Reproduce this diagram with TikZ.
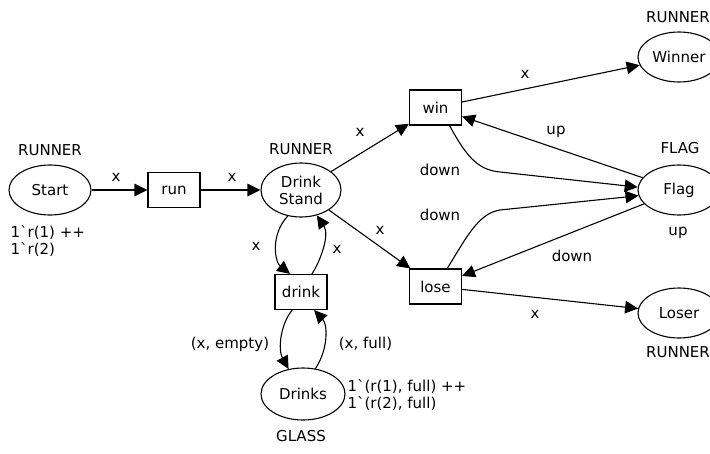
\documentclass[tikz,border=0pt]{standalone}
\usepackage{fontspec}
\setmainfont{DejaVu Sans}[Ligatures=TeXOff]
\usetikzlibrary{shapes.geometric,arrows.meta}
\newcommand\bq{\symbol{96}}
\begin{document}
\begin{tikzpicture}[x=1pt,y=-1pt,
  every node/.style={font=\fontsize{15}{17}\selectfont},
  place/.style={draw, ellipse, minimum width=82pt, minimum height=50pt, inner sep=0pt},
  trans/.style={draw, rectangle, minimum width=52pt, minimum height=35pt, inner sep=0pt},
  lbl/.style={inner sep=0pt},
  arc/.style={-{Triangle[length=13pt,width=12.5pt]}},
  line width=1.1pt]
\useasboundingbox (0,0) rectangle (710,453);
\clip (0,0) rectangle (710,453);
% places and transitions
\node[place] (start) at (50,190) {Start};
\node[trans] (run) at (174,190) {run};
\node[place, minimum width=80pt, minimum height=54pt, align=center] (ds) at (301,190) {Drink\\Stand};
\node[trans] (win) at (435.5,107.5) {win};
\node[trans] (lose) at (435.5,286.5) {lose};
\node[trans] (drink) at (301,292) {drink};
\node[place, minimum width=84pt, minimum height=52pt] (drinks) at (303,394) {Drinks};
\node[place] (winner) at (679,57) {Winner};
\node[place] (flag) at (679,190) {Flag};
\node[place] (loser) at (679,313) {Loser};
% colour sets and markings
\node[lbl] (l1) at (50,150) {RUNNER};
\node[lbl, align=left, anchor=west] (m1) at (10,240.5) {1\bq r(1) ++\\1\bq r(2)};
\node[lbl] (l2) at (301,149) {RUNNER};
\node[lbl] (l3) at (678,17) {RUNNER};
\node[lbl] (l4) at (680,148) {FLAG};
\node[lbl] (l5) at (678,233) {up};
\node[lbl] (l6) at (678,352) {RUNNER};
\node[lbl] (l7) at (301,436) {GLASS};
\node[lbl, align=left, anchor=west] (m2) at (347,394.5) {1\bq(r(1), full) ++\\1\bq(r(2), full)};
% arc inscriptions
\node[lbl] (x1) at (116,177) {x};
\node[lbl] (x2) at (232,177) {x};
\node[lbl] (x3) at (360,132) {x};
\node[lbl] (x4) at (380,230) {x};
\node[lbl] (x5) at (256,246) {x};
\node[lbl] (x6) at (337,249) {x};
\node[lbl] (x7) at (525,74) {x};
\node[lbl] (x8) at (535,314) {x};
\node[lbl] (u1) at (556,132) {up};
\node[lbl] (d1) at (440,170) {down};
\node[lbl] (d2) at (440,215) {down};
\node[lbl] (d3) at (572,256) {down};
\node[lbl] (e1) at (230,344) {(x, empty)};
\node[lbl] (e2) at (365.5,344) {(x, full)};
% arcs
\draw[arc] (start) -- (run);
\draw[arc] (run) -- (ds);
\draw[arc] (ds) -- (win);
\draw[arc] (ds) -- (lose);
\draw[arc] (win) -- (winner);
\draw[arc] (flag) -- (win);
\draw[arc] (flag) -- (lose);
\draw[arc] (lose) -- (loser);
\draw[arc] (win.-52) .. controls (468,160) and (480,170) .. (500,172) -- (flag.176);
\draw[arc] (lose.57) .. controls (465,240) and (478,213) .. (500,210) -- (flag.188);
\draw[arc] (ds.-117) .. controls (270,235) and (275,262) .. (drink.121);
\draw[arc] (drink.59) .. controls (320,262) and (330,235) .. (ds.-58);
\draw[arc] (drink.-116) .. controls (280,325) and (278,350) .. (drinks.120);
\draw[arc] (drinks.64) .. controls (328,350) and (328,325) .. (drink.-54);
\end{tikzpicture}
\end{document}
